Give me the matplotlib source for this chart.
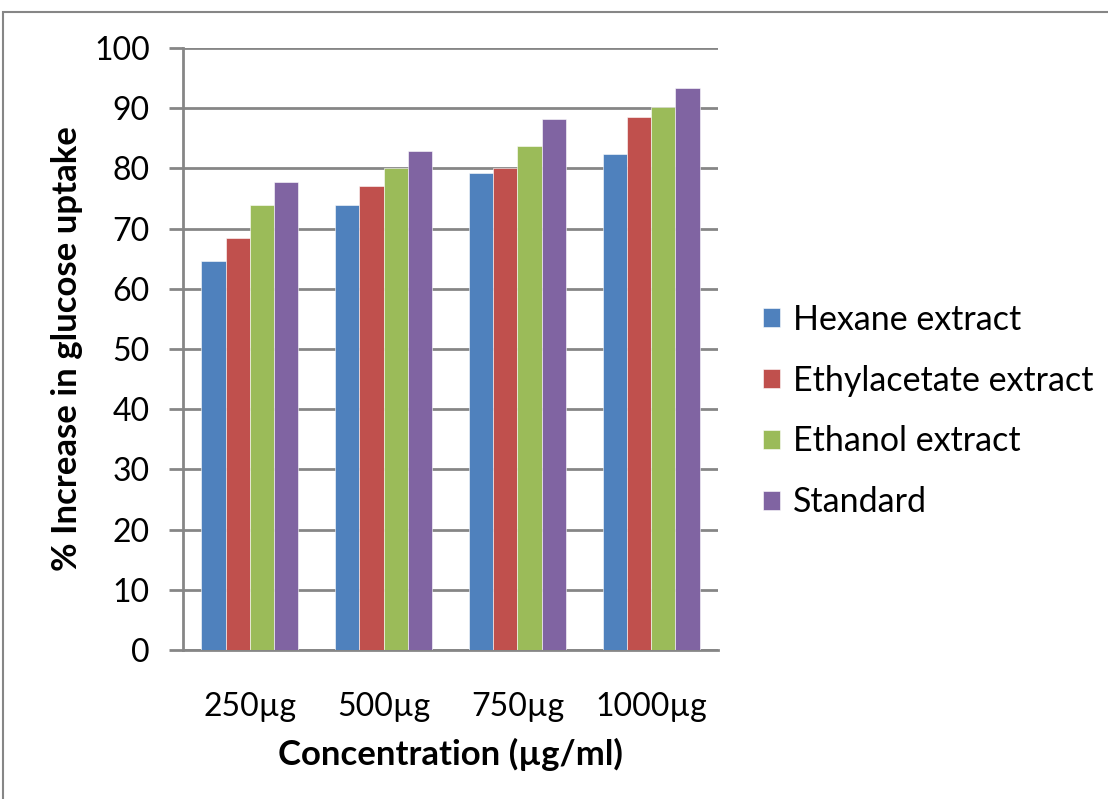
import numpy as np
import matplotlib.pyplot as plt
from matplotlib.patches import Rectangle

plt.rcParams['font.family'] = ['Lato', 'DejaVu Sans']

# Значения по концентрациям
concentrations = ['250µg', '500µg', '750µg', '1000µg']
hexane = [64.7, 73.9, 79.3, 82.4]
ethylacetate = [68.4, 77.0, 80.1, 88.5]
ethanol = [73.9, 80.0, 83.8, 90.2]
standard = [77.8, 82.9, 88.2, 93.3]

series = [hexane, ethylacetate, ethanol, standard]
labels = ['Hexane extract', 'Ethylacetate extract', 'Ethanol extract', 'Standard']
colors = ['#4F81BD', '#C0504D', '#9BBB59', '#8064A2']

fig = plt.figure(figsize=(11.08, 7.99), dpi=100)
ax = fig.add_axes([0.1652, 0.1865, 0.4828, 0.7534])

# Группы столбцов
x = np.arange(len(concentrations))
w = 0.181
for i, (vals, lab, col) in enumerate(zip(series, labels, colors)):
    ax.bar(x + (i - 1.5) * w, vals, w, color=col, label=lab,
           edgecolor='white', linewidth=0.4, zorder=3)

ax.set_xlim(-0.5, 3.5)
ax.set_ylim(0, 100)
ax.set_yticks(range(0, 101, 10))
ax.set_xticks(x)
ax.set_xticklabels(concentrations)

grid_col = '#868686'
ax.yaxis.grid(True, color=grid_col, linewidth=2, zorder=0)
for side in ['top', 'right']:
    ax.spines[side].set_visible(False)
for side in ['left', 'bottom']:
    ax.spines[side].set_color(grid_col)
    ax.spines[side].set_linewidth(2)

ax.tick_params(axis='y', length=10, width=2, color=grid_col, pad=14, labelsize=23)
ax.tick_params(axis='x', length=0, pad=30, labelsize=23)

ax.set_ylabel('% Increase in glucose uptake', fontsize=25, fontweight='bold', labelpad=8)
ax.set_xlabel('Concentration (µg/ml)', fontsize=25, fontweight='bold', labelpad=12)

ax.legend(loc='center left', bbox_to_anchor=(1.058, 0.397), frameon=False,
          fontsize=24.5, handlelength=0.5, handleheight=0.5, handletextpad=0.4,
          labelspacing=0.85, borderaxespad=0)

# Рамка вокруг диаграммы
fig.patches.append(Rectangle((3 / 1108, -0.1), 1.2, 1 - 12 / 799 + 0.1,
                             transform=fig.transFigure, fill=False,
                             edgecolor='#868686', linewidth=1.5))

fig.savefig('out.png', dpi=100)
